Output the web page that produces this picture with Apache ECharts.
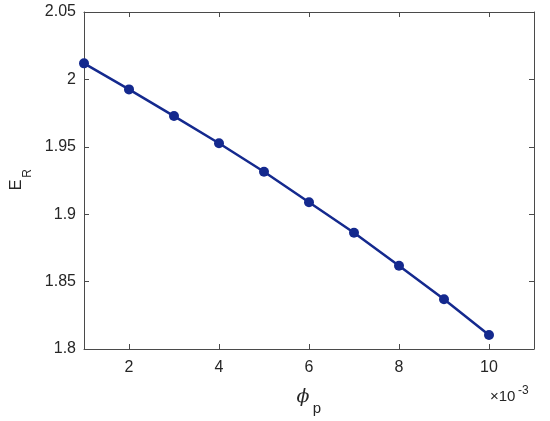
<!DOCTYPE html>
<html>
<head>
<meta charset="utf-8">
<script src="https://cdn.jsdelivr.net/npm/echarts@6/dist/echarts.min.js"></script>
<style>html,body{margin:0;padding:0;background:#fff;}#c{width:550px;height:421px;}</style>
</head>
<body>
<div id="c"></div>
<script>
const xValues = [1, 2, 3, 4, 5, 6, 7, 8, 9, 10];
const erValues = [2.0119, 1.9926, 1.9728, 1.9526, 1.9315, 1.9088, 1.8863, 1.8618, 1.8369, 1.8104];
const xTicks = [2, 4, 6, 8, 10];
const yTicks = [1.8, 1.85, 1.9, 1.95, 2, 2.05];

const textColor = '#262626';
const axisColor = '#4a4a4a';
const lineColor = '#14298e';
const font = 'Liberation Sans, Arial, sans-serif';

const chart = echarts.init(document.getElementById('c'));
const baseX = {
  type: 'value', min: 1, max: 11,
  axisLine: { show: true, onZero: false, lineStyle: { color: axisColor, width: 1 } },
  splitLine: { show: false }
};
const baseY = {
  type: 'value', min: yTicks[0], max: yTicks[yTicks.length - 1], interval: 0.05,
  axisLine: { show: true, onZero: false, lineStyle: { color: axisColor, width: 1 } },
  splitLine: { show: false }
};
chart.setOption({
  animation: false,
  backgroundColor: '#fff',
  grid: { left: 84, top: 12, right: 16, bottom: 72, containLabel: false },
  xAxis: [
    Object.assign({}, baseX, {
      position: 'bottom',
      axisTick: { show: true, inside: true, length: 5, customValues: xTicks, lineStyle: { color: axisColor } },
      axisLabel: { show: true, customValues: xTicks, margin: 11, color: textColor, fontSize: 16, fontFamily: font }
    }),
    Object.assign({}, baseX, {
      position: 'top',
      axisTick: { show: true, inside: true, length: 5, customValues: xTicks, lineStyle: { color: axisColor } },
      axisLabel: { show: false }
    })
  ],
  yAxis: [
    Object.assign({}, baseY, {
      position: 'left',
      axisTick: { show: true, inside: true, length: 5, lineStyle: { color: axisColor } },
      axisLabel: { show: true, margin: 8, color: textColor, fontSize: 16, fontFamily: font,
        formatter: v => String(parseFloat(v.toFixed(2))) }
    }),
    Object.assign({}, baseY, {
      position: 'right',
      axisTick: { show: true, inside: true, length: 5, lineStyle: { color: axisColor } },
      axisLabel: { show: false }
    })
  ],
  series: [{
    type: 'line',
    xAxisIndex: 0, yAxisIndex: 0,
    data: xValues.map((x, i) => [x, erValues[i]]),
    symbol: 'circle', symbolSize: 10,
    lineStyle: { color: lineColor, width: 2.5 },
    itemStyle: { color: lineColor },
    clip: false
  }],
  graphic: [
    { type: 'group', x: 17, y: 185, rotation: Math.PI / 2,
      children: [
        { type: 'text', x: 0, y: 0,
          style: { text: 'E', fontSize: 16, fontFamily: font, fill: textColor, align: 'center', verticalAlign: 'middle' } },
        { type: 'text', x: 11.5, y: 11,
          style: { text: 'R', fontSize: 12, fontFamily: font, fill: textColor, align: 'center', verticalAlign: 'middle' } }
      ] },
    { type: 'text', x: 303, y: 397,
      style: { text: 'ϕ', fontSize: 19, fontStyle: 'italic', fontFamily: 'DejaVu Serif, serif', fill: textColor, align: 'center', verticalAlign: 'middle' } },
    { type: 'text', x: 317, y: 409,
      style: { text: 'p', fontSize: 15, fontFamily: font, fill: textColor, align: 'center', verticalAlign: 'middle' } },
    { type: 'text', x: 490, y: 397,
      style: { text: '×10', fontSize: 15, fontFamily: font, fill: textColor, align: 'left', verticalAlign: 'middle' } },
    { type: 'text', x: 518, y: 391,
      style: { text: '-3', fontSize: 12, fontFamily: font, fill: textColor, align: 'left', verticalAlign: 'middle' } }
  ]
});
</script>
</body>
</html>
